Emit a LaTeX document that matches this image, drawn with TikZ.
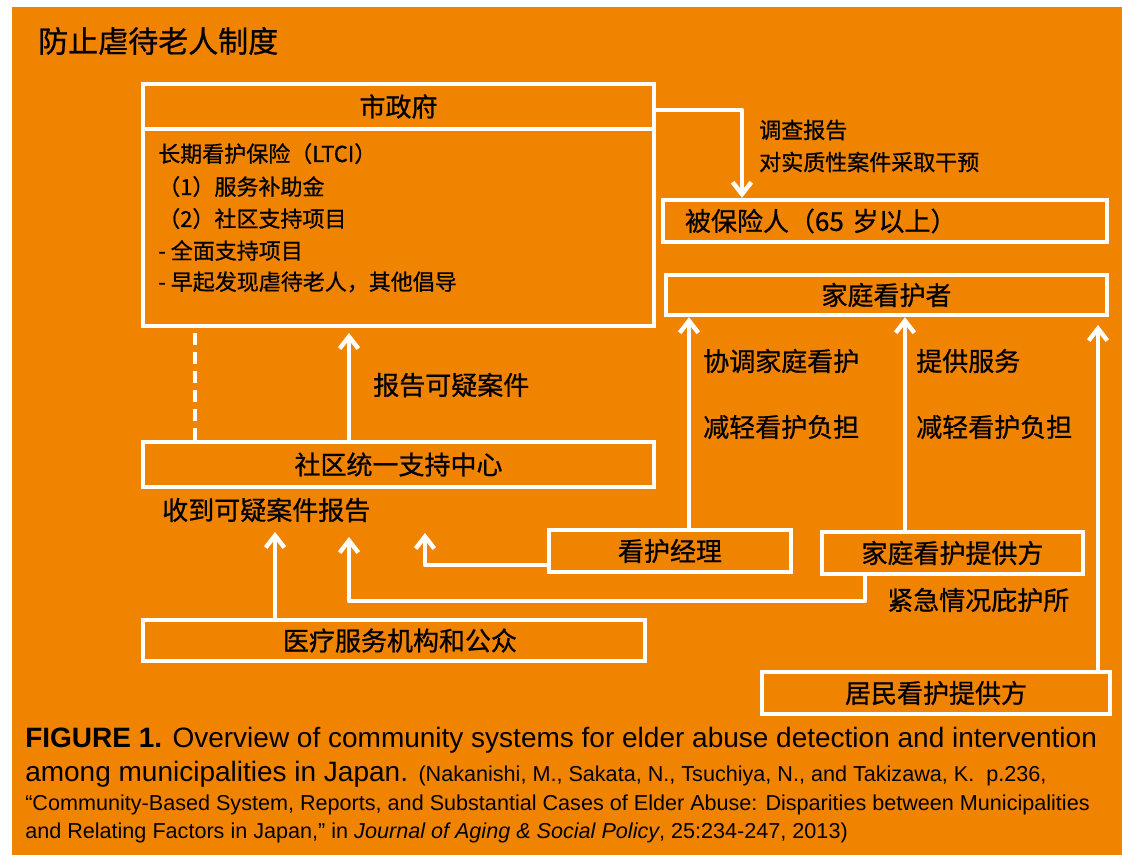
\documentclass[tikz,border=0pt]{standalone}
\usepackage{fontspec}
\setmainfont{Liberation Sans}
\newfontfamily\cjk[FakeBold=0.8]{Noto Sans CJK SC}
\usetikzlibrary{arrows.meta}
\definecolor{bgorange}{RGB}{240,131,0}
\newcommand\mybox[6]{\node[bx, lbl, minimum width={(#4-#2)*0.75pt}, minimum height={(#5-#3)*0.75pt}] (#1) at ({(#2+#4)/2},{(#3+#5)/2}) {#6};}
\begin{document}
\begin{tikzpicture}[x=0.75pt,y=-0.75pt,
  bx/.style={draw=white, line width=3.3pt, inner sep=0pt},
  lbl/.style={font=\cjk\fontsize{19.5}{23}\selectfont, inner sep=0pt, text=black},
  sm/.style={font=\cjk\fontsize{16.5}{24}\selectfont, inner sep=0pt, text=black},
  arr/.style={draw=white, line width=3.3pt, line join=round, -{Straight Barb[length=9pt,width=14pt]}},
  dsh/.style={draw=white, line width=3.3pt, dash pattern=on 9pt off 5.25pt},
  captxt/.style={anchor=base west, inner sep=0pt, text=black},
]
\useasboundingbox (0,0) rectangle (1122,855);
\fill[white] (0,0) rectangle (1122,855);
\fill[bgorange] (12,7) rectangle (1122,855);

% title
\node[anchor=west, inner sep=0pt, font=\cjk\fontsize{22.5}{27}\selectfont] (title) at (38,41) {防止虐待老人制度};

% boxes
\mybox{gov}{143}{84}{654}{129}{市政府}
\mybox{govb}{143}{129}{654}{326}{}
\node[bx, lbl, minimum width={(1107-663)*0.75pt}, minimum height={(242-200)*0.75pt}, text width={(1107-663-44)*0.75pt}, align=left] (ins) at ({(663+1107)/2},{(200+242)/2}) {被保险人（65 岁以上）};
\mybox{fc}{666}{275}{1107}{315}{家庭看护者}
\mybox{sq}{143}{442}{654}{487}{社区统一支持中心}
\mybox{med}{143}{620}{645}{661}{\hspace{9pt}医疗服务机构和公众}
\mybox{cm}{549}{530}{791}{572}{看护经理\hspace{18pt}}
\mybox{hp}{822}{532}{1083}{574}{家庭看护提供方}
\mybox{rp}{762}{672}{1110}{714}{居民看护提供方}

% body text of municipal government
\node[sm, anchor=base west] (gt1) at (158,162) {长期看护保险（LTCI）};
\node[sm, anchor=base west] (gt2) at (158,195) {（1）服务补助金};
\node[sm, anchor=base west] (gt3) at (158,227) {（2）社区支持项目};
\node[sm, anchor=base west] (gt4) at (158,259) {- 全面支持项目};
\node[sm, anchor=base west] (gt5) at (158,290) {- 早起发现虐待老人，其他倡导};

% labels
\node[sm, anchor=west] (la1) at (759,130) {调查报告};
\node[sm, anchor=west] (la2) at (759,162) {对实质性案件采取干预};
\node[lbl, anchor=west] (lb1) at (373,385) {报告可疑案件};
\node[lbl, anchor=west] (lb2) at (162,510) {收到可疑案件报告};
\node[lbl, anchor=west] (lc1) at (703,361) {协调家庭看护};
\node[lbl, anchor=west] (lc2) at (703,427) {减轻看护负担};
\node[lbl, anchor=west] (ld1) at (916,361) {提供服务};
\node[lbl, anchor=west] (ld2) at (916,427) {减轻看护负担};
\node[lbl, anchor=west] (le1) at (887,600) {紧急情况庇护所};

% connector helper coordinates
\coordinate (ca) at (742,110);
\coordinate (cb) at (349,333);
\coordinate (cd) at (195,0);
\coordinate (ce) at (275,532);
\coordinate (cf) at (425,565);
\coordinate (cft) at (425,533);
\coordinate (cg) at (865,601);
\coordinate (cgt) at (349,537);
\coordinate (ch) at (689,0);
\coordinate (ci) at (905,0);
\coordinate (cj) at (1098,325);

% connectors
\draw[arr] (gov.east |- ca) -- (ca) -- (ins.north -| ca);
\draw[arr] (sq.north -| cb) -- (cb);
\draw[dsh] (sq.north -| cd) -- (govb.south -| cd);
\draw[arr] (med.north -| ce) -- (ce);
\draw[arr] (cm.west |- cf) -- (cf) -- (cft);
\draw[arr] (hp.south -| cg) -- (cg) -- (cg -| cgt) -- (cgt);
\draw[arr] (cm.north -| ch) -- (fc.south -| ch);
\draw[arr] (hp.north -| ci) -- (fc.south -| ci);
\draw[arr] (rp.north -| cj) -- (cj);

% caption
\node[captxt, font=\fontsize{21}{25}\selectfont] (cap1) at (25,747) {\textbf{FIGURE 1.} Overview of community systems for elder abuse detection and intervention};
\node[captxt, font=\fontsize{21}{25}\selectfont] (cap2) at (25,781) {among municipalities in Japan. {\fontsize{16.2}{19}\selectfont (Nakanishi, M., Sakata, N., Tsuchiya, N., and Takizawa, K.\ \ p.236,}};
\node[captxt, font=\fontsize{16.2}{19}\selectfont] (cap3) at (25,810) {“Community-Based System, Reports, and Substantial Cases of Elder Abuse: Disparities between Municipalities};
\node[captxt, font=\fontsize{16.2}{19}\selectfont] (cap4) at (25,838) {and Relating Factors in Japan,” in \textit{Journal of Aging \& Social Policy}, 25:234-247, 2013)};
\end{tikzpicture}
\end{document}
